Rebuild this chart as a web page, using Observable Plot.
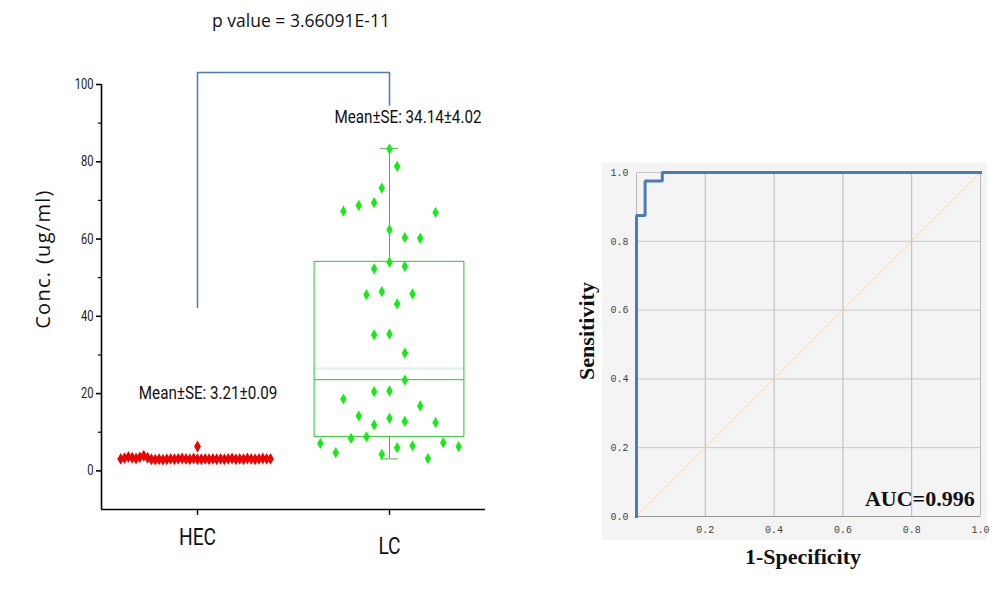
<!DOCTYPE html>
<html><head><meta charset="utf-8">
<script src="https://cdn.jsdelivr.net/npm/d3@7"></script>
<script src="https://cdn.jsdelivr.net/npm/@observablehq/plot@0.6"></script>
<style>
body{margin:0;background:#fff;}
#wrap{position:relative;width:1008px;height:592px;overflow:hidden;background:#fff;}
.abs{position:absolute;white-space:nowrap;}
</style></head><body><div id="wrap"></div>
<script>
// ---------- data: left panel ----------
const groups = ["HEC", "LC"];
const hecSlots  = [-20,-19,-18,-17,-16,-15,-14,-13,-12,-11,-10,-9,-8,-7,-6,-5,-4,-3,-2,-1,0,0,1,2,3,4,5,6,7,8,9,10,11,12,13,14,15,16,17,18,19];
const hecValues = [3.1,3.3,3.6,3.4,3.2,3.5,3.9,3.4,3.0,2.9,3.0,2.9,3.0,3.1,3.0,3.1,3.2,3.1,3.0,3.2,6.3,3.0,3.0,3.1,3.0,3.1,3.0,3.1,3.0,3.1,3.2,3.0,3.1,3.0,3.2,3.1,3.0,3.1,3.2,3.1,3.1];
const lcSlots  = [0,1,-1,-2,-4,-6,6,0,2,4,0,2,-2,-3,-1,3,1,-2,0,2,2,-2,0,-6,4,-4,0,2,-2,6,-3,-5,-9,7,3,1,9,-7,-1,5];
const lcValues = [83.3,78.8,73.2,69.4,68.7,67.2,66.9,62.4,60.4,60.2,54.0,52.9,52.3,45.6,46.4,45.8,43.2,35.2,35.4,30.5,23.5,20.5,20.7,18.6,16.8,14.2,13.6,12.8,11.9,12.5,8.8,8.4,7.1,7.3,6.5,6.0,6.3,4.7,4.3,3.2];
const lcBoxStats = [3.1, 8.8, 23.6, 54.1, 83.4]; // whisker min, Q1, median, Q3, whisker max
const lcFaintLine = [26.5];
const meanLabels = ["Mean\u00B1SE: 3.21\u00B10.09", "Mean\u00B1SE: 34.14\u00B14.02"];
const meanLabelY = [20.3, 91.7];
const pValueText = "p value = 3.66091E-11";
const bracketY = [42.3, 103.1, 94.6]; // left leg bottom, top, right leg bottom
const yTicks = [0, 20, 40, 60, 80, 100];
const yMinorTicks = [10, 30, 50, 70, 90];
const yLabel = "Conc. (ug/ml)";

// ---------- data: right panel ----------
const rocFpr = [0, 0, 0.025, 0.025, 0.075, 0.075, 1];
const rocTpr = [0, 0.875, 0.875, 0.975, 0.975, 1, 1];
const rocTicks = [0, 0.2, 0.4, 0.6, 0.8, 1.0];
const rocXTickLabels = [0.2, 0.4, 0.6, 0.8, 1.0];
const aucText = "AUC=0.996";
const rocXLabel = "1-Specificity";
const rocYLabel = "Sensitivity";

// ---------- build ----------
const wrap = document.getElementById("wrap");
const NARROW = "Roboto, 'Liberation Sans', sans-serif";
const hecStep = 0.02, lcStep = 0.04;
const hec = hecValues.map((v, i) => ({x: 1 + hecSlots[i] * hecStep, y: v}));
const lc = lcValues.map((v, i) => ({x: 2 + lcSlots[i] * lcStep, y: v}));
const [wMin, q1, med, q3, wMax] = lcBoxStats;
const green = "#22cc22";

const left = Plot.plot({
  width: 500, height: 592,
  marginLeft: 101, marginRight: 15, marginTop: 84, marginBottom: 83,
  x: {domain: [0.5, 2.5], axis: null},
  y: {domain: [-10, 100], axis: null},
  style: {background: "transparent", overflow: "visible"},
  marks: [
    Plot.ruleX([0.5], {y1: -10, y2: 100, stroke: "#000", strokeWidth: 1.6}),
    Plot.ruleY([-10], {x1: 0.5, x2: 2.5, stroke: "#000", strokeWidth: 1.6}),
    Plot.axisY(yTicks, {anchor: "left", label: null, tickSize: 5, tickPadding: 3, strokeWidth: 1.6, fontSize: 14, fill: "#222", fontFamily: NARROW}),
    Plot.axisY(yMinorTicks, {anchor: "left", label: null, tickSize: 3, tickFormat: () => "", strokeWidth: 1.2}),
    Plot.axisX([1, 2], {anchor: "bottom", label: null, tickSize: 6, tickFormat: () => "", strokeWidth: 1.4}),
    Plot.text([groups[0]], {x: 1, y: -10, dy: 28, fontSize: 24, fontFamily: NARROW, fill: "#111"}),
    Plot.text([groups[1]], {x: 2, y: -10, dy: 37, fontSize: 24, fontFamily: NARROW, fill: "#111"}),
    Plot.line([[1, bracketY[0]], [1, bracketY[1]], [2, bracketY[1]], [2, bracketY[2]]], {stroke: "#4a78b8", strokeWidth: 1.5}),
    Plot.ruleY(lcFaintLine, {x1: 1.61, x2: 2.39, stroke: "#d6f0f6", strokeWidth: 2}),
    Plot.rect([{}], {x1: 1.61, x2: 2.39, y1: q1, y2: q3, stroke: green, fill: "none", strokeWidth: 1}),
    Plot.ruleY([med], {x1: 1.61, x2: 2.39, stroke: green, strokeWidth: 1}),
    Plot.ruleX([2], {y1: q3, y2: wMax, stroke: green, strokeWidth: 1}),
    Plot.ruleX([2], {y1: wMin, y2: q1, stroke: green, strokeWidth: 1}),
    Plot.ruleY([wMax], {x1: 1.953, x2: 2.047, stroke: "#55aa55", strokeWidth: 1}),
    Plot.ruleY([wMin], {x1: 1.953, x2: 2.047, stroke: "#55aa55", strokeWidth: 1}),
    Plot.dot(hec, {x: "x", y: "y", symbol: "diamond", r: 3.6, fill: "#ee0000", stroke: "none"}),
    Plot.dot(lc, {x: "x", y: "y", symbol: "diamond", r: 3.4, fill: "#11ee11", stroke: "none"}),
    Plot.text(meanLabels, {x: (d, i) => i === 0 ? 1.055 : 2.096, y: (d, i) => meanLabelY[i], text: d => d, fontSize: 19, fontFamily: NARROW, fill: "#111"})
  ]
});
// condensed look of the original's narrow font: squeeze each label horizontally about its anchor
left.querySelectorAll("text").forEach(t => {
  const tr = t.getAttribute("transform");
  if (tr === null) return;
  const fs = parseFloat(getComputedStyle(t).fontSize) || 14;
  const k = fs >= 22 ? 0.68 : fs >= 17 ? 0.68 : 0.8;
  t.setAttribute("transform", tr + ` scale(${k},1)`);
});
left.classList.add("abs");
left.style.left = "0px"; left.style.top = "0px";
wrap.appendChild(left);

const title = document.createElement("div");
title.className = "abs";
title.textContent = pValueText;
Object.assign(title.style, {left: "301px", top: "8px", transform: "translateX(-50%)", font: "17.5px 'Open Sans', sans-serif", color: "#111"});
wrap.appendChild(title);

const ylab = document.createElement("div");
ylab.className = "abs";
ylab.textContent = yLabel;
Object.assign(ylab.style, {left: "42px", top: "259px", transform: "translate(-50%,-50%) rotate(-90deg)", font: "20px 'Open Sans', sans-serif", letterSpacing: "1.3px", color: "#111"});
wrap.appendChild(ylab);

// ---------- right panel ----------
const roc = rocFpr.map((x, i) => ({x, y: rocTpr[i]}));
const right = Plot.plot({
  width: 385, height: 377,
  marginLeft: 34, marginRight: 7, marginTop: 9, marginBottom: 24,
  x: {domain: [0, 1], axis: null},
  y: {domain: [0, 1], axis: null},
  style: {background: "#f4f4f4", overflow: "visible"},
  marks: [
    Plot.gridX(rocTicks, {stroke: "#b8b8b8", strokeOpacity: 1, strokeWidth: 1}),
    Plot.gridY(rocTicks, {stroke: "#c8c8c8", strokeOpacity: 1, strokeWidth: 1}),
    Plot.ruleY([0], {stroke: "#9a9a9a", strokeWidth: 1.2}),
    Plot.axisY(rocTicks, {anchor: "left", label: null, tickSize: 0, tickPadding: 8, tickFormat: d3.format(".1f"), fontSize: 10, fontFamily: "'Liberation Mono', monospace", fill: "#444"}),
    Plot.axisX(rocXTickLabels, {anchor: "bottom", label: null, tickSize: 0, tickPadding: 9, tickFormat: d3.format(".1f"), fontSize: 10, fontFamily: "'Liberation Mono', monospace", fill: "#444"}),
    Plot.line([[0, 0], [1, 1]], {stroke: "#f0d9bd", strokeWidth: 1}),
    Plot.line(roc, {x: "x", y: "y", stroke: "#4a7db5", strokeWidth: 3, strokeLinejoin: "miter", strokeLinecap: "square"}),
    Plot.text([aucText], {x: 0.983, y: 0.03, text: d => d, textAnchor: "end", lineAnchor: "bottom", fontSize: 22, fontWeight: "bold", fontFamily: "'Liberation Serif', serif", fill: "#111"})
  ]
});
right.classList.add("abs");
right.style.left = "602px"; right.style.top = "163px";
wrap.appendChild(right);

const xlab2 = document.createElement("div");
xlab2.className = "abs";
xlab2.textContent = rocXLabel;
Object.assign(xlab2.style, {left: "803px", top: "557px", transform: "translate(-50%,-50%)", font: "bold 22px 'Liberation Serif', serif", color: "#111"});
wrap.appendChild(xlab2);

const ylab2 = document.createElement("div");
ylab2.className = "abs";
ylab2.textContent = rocYLabel;
Object.assign(ylab2.style, {left: "587px", top: "331px", transform: "translate(-50%,-50%) rotate(-90deg)", font: "bold 22px 'Liberation Serif', serif", color: "#111"});
wrap.appendChild(ylab2);
</script></body></html>
